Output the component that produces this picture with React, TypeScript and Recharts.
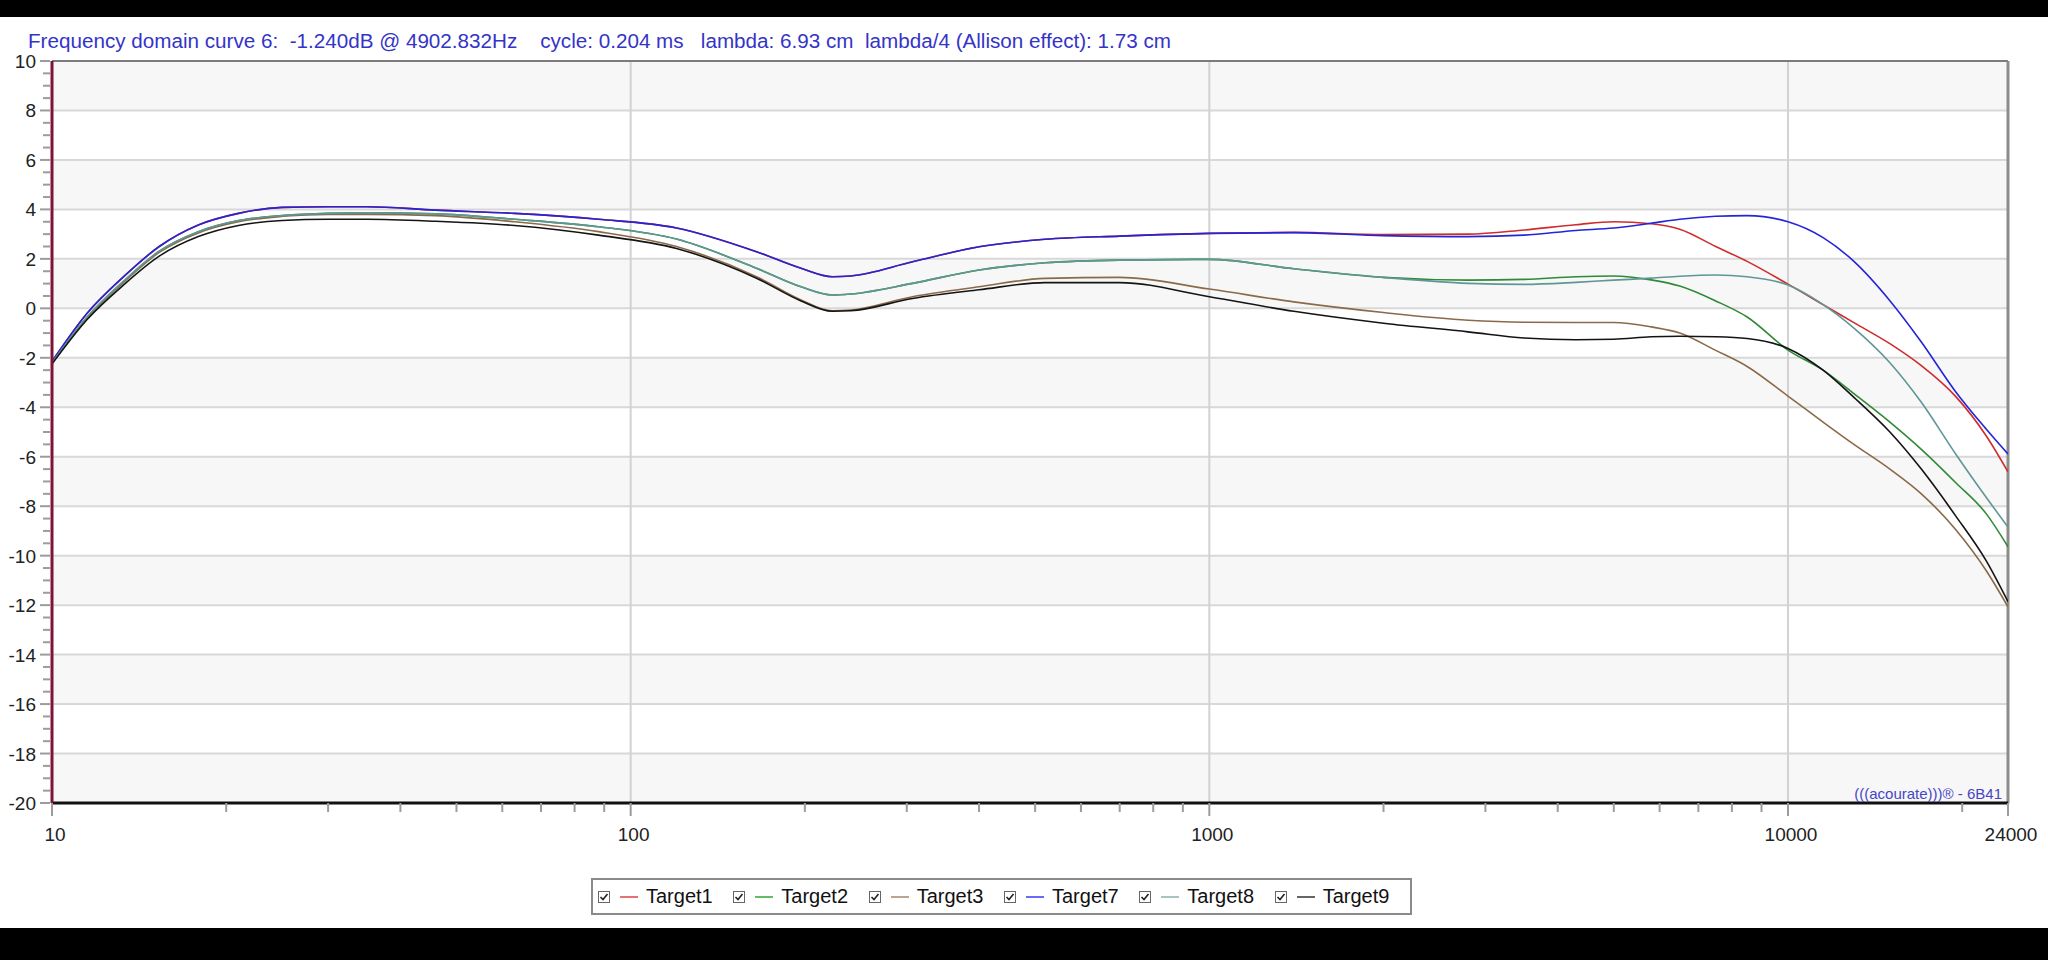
import React from 'react';
import {
  LineChart, Line, XAxis, YAxis, ReferenceLine, ReferenceArea,
} from 'recharts';

// frequency points (Hz)
const FREQ = [10, 11.5, 13.3, 15.3, 17.9, 21, 25, 30, 35, 46, 63, 88, 120, 165, 197, 223, 240, 307, 400, 520, 700, 1000, 1400, 2000, 2800, 3500, 4300, 5000, 5800, 6500, 7500, 8500, 10000, 11500, 13000, 15000, 17000, 19500, 22000, 24000];

const TARGET1 = [-2.15, -0.2, 1.28, 2.49, 3.37, 3.84, 4.08, 4.11, 4.11, 3.97, 3.84, 3.6, 3.25, 2.29, 1.62, 1.28, 1.31, 1.88, 2.49, 2.79, 2.92, 3.03, 3.07, 2.98, 3.0, 3.17, 3.38, 3.5, 3.42, 3.2, 2.5, 1.9, 0.98, 0.15, -0.58, -1.43, -2.32, -3.57, -5.15, -6.61];
const TARGET2 = [-2.2, -0.35, 1.1, 2.3, 3.1, 3.55, 3.75, 3.84, 3.86, 3.82, 3.6, 3.3, 2.8, 1.62, 0.87, 0.54, 0.58, 1.01, 1.55, 1.84, 1.95, 1.98, 1.6, 1.25, 1.14, 1.17, 1.28, 1.31, 1.15, 0.9, 0.3, -0.35, -1.69, -2.5, -3.45, -4.6, -5.7, -7.05, -8.3, -9.64];
const TARGET3 = [-2.2, -0.4, 1.05, 2.25, 3.05, 3.5, 3.72, 3.8, 3.8, 3.75, 3.5, 3.1, 2.5, 1.28, 0.34, -0.1, -0.07, 0.47, 0.87, 1.21, 1.25, 0.78, 0.26, -0.17, -0.48, -0.56, -0.57, -0.57, -0.75, -1.0, -1.7, -2.35, -3.55, -4.6, -5.5, -6.5, -7.5, -8.95, -10.6, -12.07];
const TARGET7 = [-2.15, -0.2, 1.28, 2.49, 3.37, 3.84, 4.08, 4.11, 4.11, 3.97, 3.84, 3.6, 3.25, 2.29, 1.62, 1.28, 1.31, 1.88, 2.49, 2.79, 2.92, 3.03, 3.06, 2.94, 2.9, 2.96, 3.15, 3.25, 3.44, 3.6, 3.72, 3.75, 3.5, 2.86, 1.9, 0.31, -1.36, -3.38, -4.88, -5.89];
const TARGET8 = [-2.2, -0.35, 1.1, 2.3, 3.1, 3.55, 3.75, 3.84, 3.86, 3.82, 3.6, 3.3, 2.8, 1.62, 0.87, 0.54, 0.58, 1.01, 1.55, 1.84, 1.95, 1.98, 1.6, 1.25, 1.01, 0.97, 1.05, 1.14, 1.22, 1.3, 1.35, 1.28, 0.94, 0.15, -0.8, -2.2, -3.8, -5.9, -7.64, -8.85];
const TARGET9 = [-2.25, -0.45, 0.95, 2.1, 2.9, 3.35, 3.55, 3.6, 3.6, 3.52, 3.35, 2.96, 2.42, 1.22, 0.3, -0.12, -0.1, 0.4, 0.75, 1.04, 1.04, 0.47, -0.12, -0.6, -0.95, -1.2, -1.27, -1.25, -1.15, -1.13, -1.15, -1.22, -1.62, -2.5, -3.6, -5.0, -6.5, -8.4, -10.2, -11.86];

const SERIES = [
  { key: 't1', name: 'Target1', values: TARGET1, color: '#d02c2c', legend: '#e87070' },
  { key: 't2', name: 'Target2', values: TARGET2, color: '#2f8a35', legend: '#66bb66' },
  { key: 't3', name: 'Target3', values: TARGET3, color: '#8a6a48', legend: '#bba592' },
  { key: 't7', name: 'Target7', values: TARGET7, color: '#2424d8', legend: '#6a6aff' },
  { key: 't8', name: 'Target8', values: TARGET8, color: '#5f9696', legend: '#a9c2c2' },
  { key: 't9', name: 'Target9', values: TARGET9, color: '#141414', legend: '#666666' },
];

const X_LABELS = [10, 100, 1000, 10000, 24000];
const X_GRID = [100, 1000, 10000];
const Y_LABELS = [10, 8, 6, 4, 2, 0, -2, -4, -6, -8, -10, -12, -14, -16, -18, -20];

const TITLE = 'Frequency domain curve 6:  -1.240dB @ 4902.832Hz    cycle: 0.204 ms   lambda: 6.93 cm  lambda/4 (Allison effect): 1.73 cm';

const data = FREQ.map((f, i) => {
  const row: any = { f };
  SERIES.forEach((s) => { row[s.key] = s.values[i]; });
  return row;
});

// minor ticks: 2..9 per decade on x, every 0.5 dB on y
const xTicks: number[] = [];
[10, 100, 1000, 10000].forEach((d) => {
  for (let m = 1; m < 10; m++) if (d * m <= 24000) xTicks.push(d * m);
});
xTicks.push(24000);
const yTicks: number[] = [];
for (let v = -20; v <= 10; v += 0.5) yTicks.push(v);

const bands = Y_LABELS.filter((v) => v < 10 && (v + 20) % 4 === 0);
const FONT = '"Liberation Sans", Arial, sans-serif';

const XTick = ({ x, y, payload }: any) => {
  const major = X_LABELS.includes(payload.value);
  return (
    <g>
      <line x1={x} x2={x} y1={y} y2={y + (major ? 13 : 9)} stroke="#9c9c9c" strokeWidth={2} />
      {major && (
        <text x={x + 3} y={y + 38} textAnchor="middle" fontSize={19} fill="#222" fontFamily={FONT}>
          {payload.value}
        </text>
      )}
    </g>
  );
};

const YTick = ({ x, y, payload }: any) => {
  const major = Y_LABELS.includes(payload.value);
  return (
    <g>
      <line x1={x - (major ? 12 : 9)} x2={x - 2} y1={y} y2={y} stroke="#9c9c9c" strokeWidth={2} />
      {major && (
        <text x={x - 16} y={y + 7} textAnchor="end" fontSize={19} fill="#222" fontFamily={FONT}>
          {payload.value}
        </text>
      )}
    </g>
  );
};

const CheckBox = () => (
  <svg width={12} height={12} style={{ display: 'block' }}>
    <rect x={0.5} y={0.5} width={11} height={11} fill="#fff" stroke="#666" />
    <path d="M2.5 6 L5 8.5 L9.5 3" fill="none" stroke="#222" strokeWidth={1.6} />
  </svg>
);

const App = () => (
  <div style={{ position: 'fixed', left: 0, top: 0, width: 2048, height: 960, background: '#000', overflow: 'hidden' }}>
    <div style={{ position: 'absolute', left: 0, top: 17, width: 2048, height: 911, background: '#fff' }} />
    <div style={{ position: 'absolute', left: 0, top: 0 }}>
      <LineChart width={2048} height={960} data={data} margin={{ top: 61, right: 40, bottom: 127, left: 12 }}>
        {bands.map((v) => (
          <ReferenceArea key={'b' + v} y1={v} y2={v + 2} fill="#f7f7f7" fillOpacity={1} stroke="none" />
        ))}
        {Y_LABELS.filter((v) => v > -20 && v < 10).map((v) => (
          <ReferenceLine key={'h' + v} y={v} stroke="#d8d8d8" strokeWidth={2} />
        ))}
        {X_GRID.map((v) => (
          <ReferenceLine key={'v' + v} x={v} stroke="#d2d2d2" strokeWidth={2} />
        ))}
        <ReferenceLine y={10} stroke="#7c7c7c" strokeWidth={2} />
        <ReferenceLine x={24000} stroke="#8c8c8c" strokeWidth={3} />
        <XAxis
          dataKey="f"
          type="number"
          scale="log"
          domain={[10, 24000]}
          ticks={xTicks}
          interval={0}
          allowDataOverflow
          height={30}
          tickSize={0}
          tickMargin={0}
          tickLine={false}
          axisLine={{ stroke: '#111', strokeWidth: 3 }}
          tick={<XTick />}
        />
        <YAxis
          type="number"
          domain={[-20, 10]}
          ticks={yTicks}
          interval={0}
          width={40}
          tickSize={0}
          tickMargin={0}
          tickLine={false}
          axisLine={{ stroke: '#7d1436', strokeWidth: 3 }}
          tick={<YTick />}
        />
        {SERIES.map((s) => (
          <Line
            key={s.key}
            dataKey={s.key}
            name={s.name}
            type="monotone"
            stroke={s.color}
            strokeWidth={1.6}
            dot={false}
            isAnimationActive={false}
          />
        ))}
      </LineChart>
    </div>
    <svg width={2048} height={960} style={{ position: 'absolute', left: 0, top: 0, pointerEvents: 'none' }}>
      <text
        x={28}
        y={48}
        fontSize={20}
        fill="#3434c8"
        fontFamily={FONT}
        xmlSpace="preserve"
        textLength={1143}
        lengthAdjust="spacingAndGlyphs"
      >
        {TITLE}
      </text>
      <text x={2002} y={799} fontSize={15} fill="#4646c4" textAnchor="end" fontFamily={FONT}>
        {'(((acourate)))® - 6B41'}
      </text>
    </svg>
    <div
      style={{
        position: 'absolute', left: 591, top: 878, width: 821, height: 37, boxSizing: 'border-box',
        border: '2px solid #8a8a8a', background: '#fff', display: 'flex', alignItems: 'center',
        paddingLeft: 5, fontFamily: FONT, fontSize: 20, color: '#111',
      }}
    >
      {SERIES.map((s) => (
        <div key={s.key} style={{ display: 'flex', alignItems: 'center', width: 137.5 }}>
          <CheckBox />
          <div style={{ width: 18, height: 2, background: s.legend, marginLeft: 10, marginRight: 8 }} />
          <span>{s.name}</span>
        </div>
      ))}
    </div>
  </div>
);

export default App;
